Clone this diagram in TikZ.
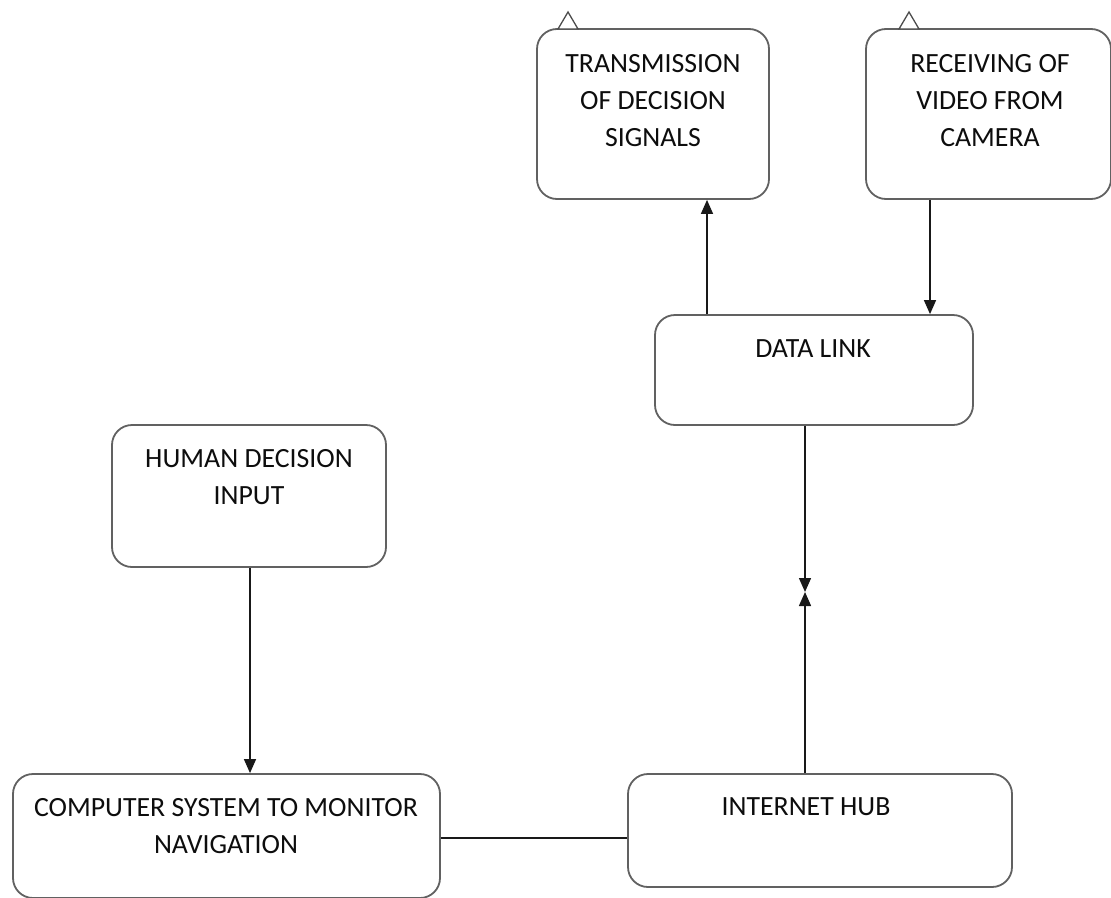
\documentclass[tikz,border=0pt]{standalone}
\usepackage{fontspec}
\setmainfont{Carlito}
\usetikzlibrary{arrows.meta}
\begin{document}
\begin{tikzpicture}[x=1pt,y=-1pt,
  box/.style={draw=black!62,line width=1.8pt,rounded corners=20pt,fill=white,inner sep=0pt},
  lbl/.style={align=center,text=black!95,font=\fontsize{27.8}{37}\selectfont,inner sep=0pt},
  link/.style={line width=1.4pt,black!90},
  arr/.style={link,-{Triangle[length=14pt,width=12pt]}},
  flag/.style={draw=black!70,line width=1.3pt,fill=white}]
\clip (0,0) rectangle (1111,897);
\fill[white] (0,0) rectangle (1111,897);

% boxes
\node[box,minimum width=232pt,minimum height=170pt] (tx) at (653,114) {};
\node[box,minimum width=245pt,minimum height=170pt] (rv) at (988.5,114) {};
\node[box,minimum width=318pt,minimum height=110pt] (dl) at (814,370) {};
\node[box,minimum width=274pt,minimum height=142pt] (hd) at (249,496) {};
\node[box,minimum width=427pt,minimum height=124pt] (cs) at (226.5,836) {};
\node[box,minimum width=384pt,minimum height=113pt] (ih) at (820,830.5) {};

% small open flags on the upper boxes
\draw[flag] (558,29) -- (568,12) -- (578,29) -- cycle;
\draw[flag] (899,29) -- (909,12) -- (919,29) -- cycle;

% labels
\node[lbl] (txt-tx) at (653,101) {TRANSMISSION\\OF DECISION\\SIGNALS};
\node[lbl] (txt-rv) at (990,101) {RECEIVING OF\\VIDEO FROM\\CAMERA};
\node[lbl] (txt-dl) at (813,349) {DATA LINK};
\node[lbl] (txt-hd) at (249,477) {HUMAN DECISION\\INPUT};
\node[lbl] (txt-cs) at (226,826) {COMPUTER SYSTEM TO MONITOR\\NAVIGATION};
\node[lbl] (txt-ih) at (806,807) {INTERNET HUB};

% connector columns
\coordinate (c1) at (707,0);
\coordinate (c2) at (930,0);
\coordinate (c3) at (805,592);
\coordinate (c4) at (250,0);
\coordinate (r1) at (0,838);

% connectors
\draw[arr] (dl.north -| c1) -- (tx.south -| c1);
\draw[arr] (rv.south -| c2) -- (dl.north -| c2);
\draw[arr] (dl.south -| c3) -- (c3);
\draw[arr] (ih.north -| c3) -- (c3);
\draw[arr] (hd.south -| c4) -- (cs.north -| c4);
\draw[link] (cs.east |- r1) -- (ih.west |- r1);
\end{tikzpicture}
\end{document}
